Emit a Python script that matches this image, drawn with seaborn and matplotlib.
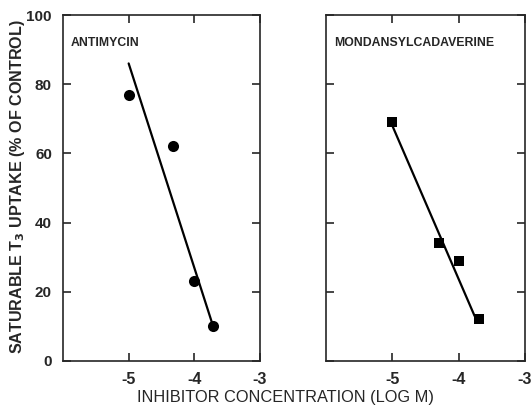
import numpy as np
import pandas as pd
import matplotlib
matplotlib.use("Agg")
import matplotlib.pyplot as plt
import seaborn as sns

# Data
anti_x = [-5.0, -4.32, -4.0, -3.71]
anti_y = [77, 62, 23, 10]
anti_fit_x = [-5.0, -3.73]
anti_fit_y = [86, 11]

mdc_x = [-5.0, -4.30, -4.0, -3.70]
mdc_y = [69, 34, 29, 12]
mdc_fit_x = [-5.0, -3.76]
mdc_fit_y = [68, 13]

x_ticks = [-5, -4, -3]
x_ticklabels = ["-5", "-4", "-3"]
y_ticks = [0, 20, 40, 60, 80, 100]
panel_titles = ["ANTIMYCIN", "MONDANSYLCADAVERINE"]

sns.set_style("ticks")
plt.rcParams['font.family'] = ['Liberation Sans', 'DejaVu Sans']

fig = plt.figure(figsize=(5.32, 4.11), dpi=100)
ax1 = fig.add_axes([0.1184, 0.1217, 0.3703, 0.8418])
ax2 = fig.add_axes([0.6128, 0.1217, 0.3741, 0.8418])

panels = [
    (ax1, anti_x, anti_y, anti_fit_x, anti_fit_y, "o", 8.0),
    (ax2, mdc_x, mdc_y, mdc_fit_x, mdc_fit_y, "s", 7.2),
]
for i, (ax, px, py, fx, fy, mk, ms) in enumerate(panels):
    sns.lineplot(x=fx, y=fy, ax=ax, color="black", linewidth=1.6)
    sns.scatterplot(x=px, y=py, ax=ax, marker=mk, s=ms**2, color="black",
                    edgecolor="black", linewidth=0, zorder=3)
    ax.set_xlim(-6, -3)
    ax.set_ylim(0, 100)
    ax.set_xticks(x_ticks)
    ax.set_yticks(y_ticks)
    ax.set_xticklabels(x_ticklabels, fontsize=11.5, fontweight="bold")
    ax.tick_params(direction="in", length=6, width=1.2, top=True, right=True,
                   pad=8)
    for s in ax.spines.values():
        s.set_linewidth(1.2)
        s.set_visible(True)
    ax.text(0.04, 0.92, panel_titles[i], transform=ax.transAxes,
            fontsize=8.8, fontweight="bold", ha="left", va="center")
    if i == 0:
        ax.set_yticklabels([str(v) for v in y_ticks], fontsize=11,
                           fontweight="bold")
    else:
        ax.set_yticklabels([])
    ax.set_xlabel("")
    ax.set_ylabel("")

fig.text(0.032, 0.547, "SATURABLE T$_\\mathbf{3}$ UPTAKE (% OF CONTROL)",
         rotation=90, ha="center", va="center", fontsize=11.6,
         fontweight="bold")
fig.text(0.536, 0.032, "INHIBITOR CONCENTRATION (LOG M)", ha="center",
         va="center", fontsize=11.8)

fig.savefig("out.png", dpi=100)
